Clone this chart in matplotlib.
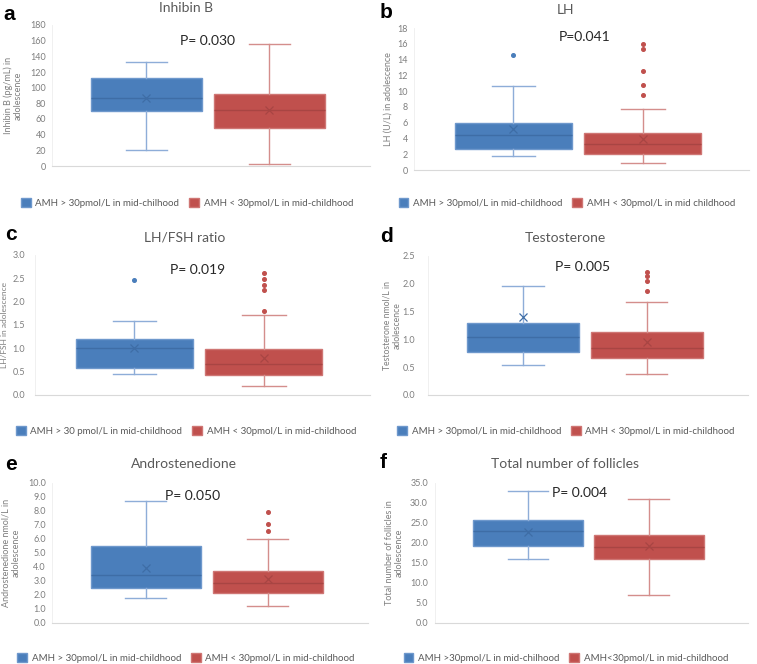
import matplotlib
matplotlib.use("Agg")
import matplotlib.pyplot as plt
from matplotlib.patches import Patch
from matplotlib.transforms import blended_transform_factory

W, H = 757, 664

# ---------------- data ----------------
letters = ["a", "b", "c", "d", "e", "f"]
titles = ["Inhibin B", "LH", "LH/FSH ratio", "Testosterone",
          "Androstenedione", "Total number of follicles"]
ylabels = ["Inhibin B (pg/mL) in\nadolescence", "LH (U/L) in adolescence",
           "LH/FSH in adolescence", "Testosterone nmol/L in\nadolescence",
           "Androstenedione nmol/L in\nadolescence",
           "Total number of follicles in\nadolescence"]
pvalues = ["P= 0.030", "P=0.041", "P= 0.019", "P= 0.005", "P= 0.050", "P= 0.004"]
ymax = [180, 18, 3.0, 2.5, 10.0, 35.0]
ystep = [20, 2, 0.5, 0.5, 1.0, 5.0]
ydec = [0, 0, 1, 1, 1, 1]
legend_hi = ["AMH > 30pmol/L in mid-chilhood", "AMH > 30pmol/L in mid-childhood",
             "AMH > 30 pmol/L in mid-childhood", "AMH > 30pmol/L in mid-childhood",
             "AMH > 30pmol/L in mid-childhood", "AMH >30pmol/L in mid-chilhood"]
legend_lo = ["AMH < 30pmol/L in mid-childhood", "AMH < 30pmol/L in mid childhood",
             "AMH < 30pmol/L in mid-childhood", "AMH < 30pmol/L in mid-childhood",
             "AMH < 30pmol/L in mid-childhood", "AMH<30pmol/L in mid-childhood"]

# [whislo, q1, median, q3, whishi, mean]
high_stats = [
    [21, 70, 87, 112, 133, 87],
    [1.8, 2.6, 4.5, 6.0, 10.6, 5.2],
    [0.46, 0.57, 1.0, 1.21, 1.58, 1.01],
    [0.54, 0.78, 1.05, 1.29, 1.96, 1.41],
    [1.8, 2.5, 3.4, 5.5, 8.7, 3.9],
    [16, 19.2, 23, 25.8, 33, 22.7],
]
low_stats = [
    [3, 48, 71, 92, 156, 71],
    [0.9, 2.0, 3.3, 4.7, 7.7, 3.9],
    [0.2, 0.42, 0.67, 0.98, 1.72, 0.80],
    [0.37, 0.67, 0.84, 1.13, 1.68, 0.95],
    [1.2, 2.15, 2.85, 3.7, 6.0, 3.15],
    [7, 16, 19, 22, 31, 19.3],
]
high_outliers = [[], [14.6], [2.47], [], [], []]
low_outliers = [[], [9.5, 10.8, 12.5, 15.3, 16.0],
                [1.80, 2.24, 2.36, 2.49, 2.61],
                [1.87, 2.05, 2.14, 2.21],
                [6.55, 7.1, 7.9], []]
p_y = [160, 16.8, 2.68, 2.3, 9.1, 32.5]

# ---------------- layout (pixels: left, top, right, bottom) ----------------
axes_px = [(52, 25, 370, 166), (414, 28, 749, 170),
           (35, 255, 370, 395), (428, 256, 748, 395),
           (52, 483, 368, 623), (435, 483, 748, 623)]
tick_pad_px = [6, 6, 10, 13, 6, 7]
ylabel_x_px = [13, 388, 5, 392, 11, 394]
ylabel_fs = [6.5, 6.5, 6.0, 6.2, 6.5, 6.5]
title_px = [(186, 8), (565, 10), (185, 237), (565, 238), (184, 464), (565, 464)]
letter_px = [(3, 14), (380, 13), (5, 235), (380, 236), (5, 465), (380, 463)]
legend_px = [(187, 203), (567, 203), (186, 431), (566, 431), (186, 658), (566, 658)]
p_x = [207, 585, 198, 583, 193, 580]

BLUE = "#4A7EBB"; BLUE_EDGE = "#6E98CC"; BLUE_MED = "#3E6DA6"; BLUE_WH = "#8EADD8"
RED = "#C0504D"; RED_EDGE = "#CF7674"; RED_MED = "#A84543"; RED_WH = "#D48E8C"
GRAY = "#7F7F7F"

plt.rcParams["font.family"] = ["Lato", "DejaVu Sans"]

fig = plt.figure(figsize=(W / 100, H / 100), dpi=100)
fig.patch.set_facecolor("white")


def stats_dict(s, fl):
    return dict(whislo=s[0], q1=s[1], med=s[2], q3=s[3], whishi=s[4],
                mean=s[5], fliers=fl)


for i in range(6):
    l, t, r, b = axes_px[i]
    ax = fig.add_axes([l / W, 1 - b / H, (r - l) / W, (b - t) / H])
    ax.set_xlim(0, 1)
    ax.set_ylim(0, ymax[i])
    for k, (st, fl, fc, ec, mc, wc) in enumerate([
            (high_stats[i], high_outliers[i], BLUE, BLUE_EDGE, BLUE_MED, BLUE_WH),
            (low_stats[i], low_outliers[i], RED, RED_EDGE, RED_MED, RED_WH)]):
        pos = [0.297, 0.683][k]
        ax.bxp([stats_dict(st, fl)], positions=[pos], widths=0.35,
               patch_artist=True, showmeans=True, showfliers=True,
               boxprops=dict(facecolor=fc, edgecolor=ec, linewidth=1.0),
               medianprops=dict(color=mc, linewidth=1.0),
               whiskerprops=dict(color=wc, linewidth=1.0),
               capprops=dict(color=wc, linewidth=1.0),
               capwidths=0.13,
               meanprops=dict(marker="x", markeredgecolor=mc, markersize=5.5,
                              markeredgewidth=0.9),
               flierprops=dict(marker="o", markerfacecolor=fc, markeredgecolor=fc,
                               markersize=2.6))
    ticks = []
    v = 0.0
    while v <= ymax[i] + 1e-9:
        ticks.append(round(v, 3))
        v += ystep[i]
    ax.set_yticks(ticks)
    ax.set_yticklabels([f"{x:.{ydec[i]}f}" for x in ticks])
    ax.set_xticks([])
    ax.tick_params(axis="y", length=0, labelsize=6.5, labelcolor=GRAY,
                   pad=tick_pad_px[i] * 0.72)
    for sp in ["top", "right"]:
        ax.spines[sp].set_visible(False)
    ax.spines["left"].set_color("#EEEEEE")
    ax.spines["left"].set_linewidth(0.6)
    ax.spines["bottom"].set_color("#D9D9D9")
    ax.spines["bottom"].set_linewidth(0.8)
    ax.set_ylabel(ylabels[i], fontsize=ylabel_fs[i], color=GRAY, linespacing=1.1,
                  va="center", ha="center")
    ax.yaxis.set_label_coords((ylabel_x_px[i] - l) / (r - l), 0.5)
    ax.text((p_x[i] - l) / (r - l), p_y[i], pvalues[i], fontsize=10,
            color="#262626", ha="center", va="center",
            transform=blended_transform_factory(ax.transAxes, ax.transData))
    fig.text(title_px[i][0] / W, 1 - title_px[i][1] / H, titles[i], fontsize=10,
             color="#595959", ha="center", va="center")
    fig.text(letter_px[i][0] / W, 1 - letter_px[i][1] / H, letters[i],
             fontsize=15, fontweight="bold", family="Liberation Sans",
             ha="left", va="center", color="black")
    handles = [Patch(facecolor=BLUE, edgecolor=BLUE_EDGE),
               Patch(facecolor=RED, edgecolor=RED_EDGE)]
    fig.legend(handles, [legend_hi[i], legend_lo[i]], ncol=2,
               loc="center", bbox_to_anchor=(legend_px[i][0] / W, 1 - legend_px[i][1] / H),
               frameon=False, fontsize=7, handlelength=1.0, handleheight=1.0,
               handletextpad=0.5, columnspacing=1.0, labelcolor="#595959")

fig.savefig("out.png", dpi=100, facecolor="white")
